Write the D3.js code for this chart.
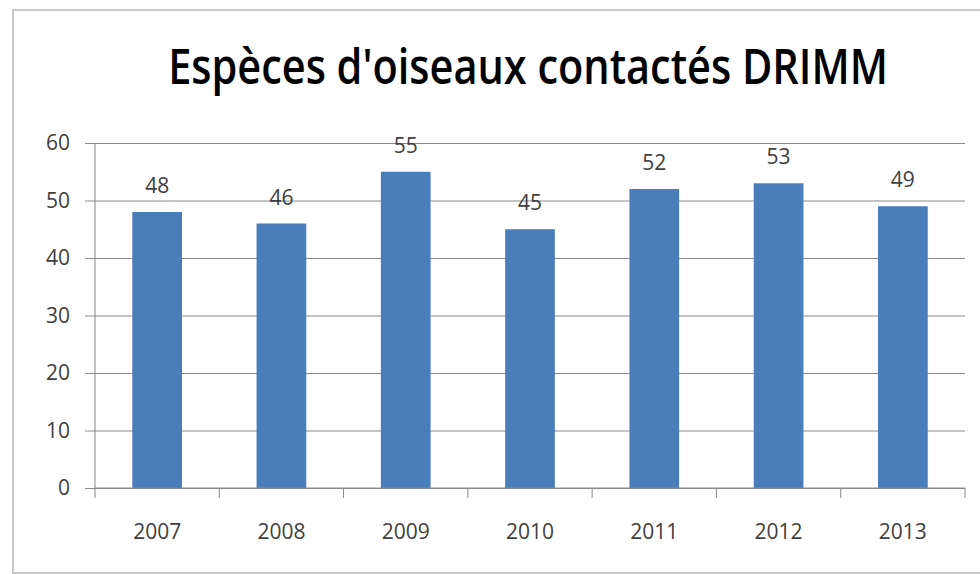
<!DOCTYPE html>
<html>
<head>
<meta charset="utf-8">
<script src="https://cdn.jsdelivr.net/npm/d3@7"></script>
<style>
    body { margin: 0; background: #fff; }
    svg text { font-family: "Open Sans", "DejaVu Sans", sans-serif; }
</style>
</head>
<body>
<div id="chart"></div>
<script>
// chart data
var years = ["2007", "2008", "2009", "2010", "2011", "2012", "2013"];
var species = [48, 46, 55, 45, 52, 53, 49];
var yTicks = [0, 10, 20, 30, 40, 50, 60];
var title = "Espèces d'oiseaux contactés DRIMM";

var width = 980, height = 574;
var plot = { left: 95, right: 965, top: 143, bottom: 488 };

var svg = d3.select("#chart").append("svg")
    .attr("width", width)
    .attr("height", height);

// outer chart frame (soft grey, like the office chart area)
svg.append("rect")
    .attr("x", 13).attr("y", 10)
    .attr("width", 990).attr("height", 563)
    .attr("fill", "#fff")
    .attr("stroke", "#c8c8c8")
    .attr("stroke-width", 2);

// title: squeeze horizontally to the narrow calibri-like width of the original
var titleG = svg.append("g");
var titleText = titleG.append("text")
    .attr("x", 0).attr("y", 0)
    .attr("text-anchor", "middle")
    .attr("font-size", 49)
    .attr("font-weight", 600)
    .attr("fill", "#000")
    .text(title);
var natural = titleText.node().getComputedTextLength();
var sx = 720 / natural;
titleG.attr("transform", "translate(528,84) scale(" + sx + ",1)");

var x = d3.scaleBand()
    .domain(years)
    .range([plot.left, plot.right])
    .paddingInner(0.6)
    .paddingOuter(0.3);

var y = d3.scaleLinear()
    .domain([0, 60])
    .range([plot.bottom, plot.top]);

// gridlines + y ticks
svg.append("g")
    .attr("transform", "translate(" + plot.left + ",0)")
    .call(d3.axisLeft(y).tickValues(yTicks).tickSize(-(plot.right - plot.left)).tickPadding(25))
    .call(function (g) {
        g.select(".domain").remove();
        g.selectAll(".tick line").attr("stroke", "#8a8a8a").attr("x1", -10);
        g.selectAll(".tick text")
            .attr("fill", "#404040")
            .attr("font-size", 21)
            .attr("font-family", "'Open Sans', sans-serif");
    });

// y axis line
svg.append("line")
    .attr("x1", plot.left).attr("x2", plot.left)
    .attr("y1", plot.top).attr("y2", plot.bottom)
    .attr("stroke", "#8a8a8a");

// bars
svg.selectAll("rect.bar")
    .data(species)
    .enter().append("rect")
    .attr("class", "bar")
    .attr("x", function (d, i) { return x(years[i]); })
    .attr("y", function (d) { return y(d); })
    .attr("width", x.bandwidth())
    .attr("height", function (d) { return y(0) - y(d); })
    .attr("fill", "#4a7ebb");

// value labels
svg.selectAll("text.val")
    .data(species)
    .enter().append("text")
    .attr("class", "val")
    .attr("x", function (d, i) { return x(years[i]) + x.bandwidth() / 2; })
    .attr("y", function (d) { return y(d) - 19; })
    .attr("text-anchor", "middle")
    .attr("font-size", 21)
    .attr("fill", "#404040")
    .text(function (d) { return d; });

// x axis: line, ticks at band edges, year labels
var edges = d3.range(years.length + 1).map(function (i) { return plot.left + i * (plot.right - plot.left) / years.length; });

svg.append("line")
    .attr("x1", plot.left).attr("x2", plot.right)
    .attr("y1", plot.bottom).attr("y2", plot.bottom)
    .attr("stroke", "#8a8a8a");

svg.selectAll("line.xtick")
    .data(edges)
    .enter().append("line")
    .attr("class", "xtick")
    .attr("x1", function (d) { return d; }).attr("x2", function (d) { return d; })
    .attr("y1", plot.bottom).attr("y2", plot.bottom + 10)
    .attr("stroke", "#8a8a8a");

svg.selectAll("text.year")
    .data(years)
    .enter().append("text")
    .attr("class", "year")
    .attr("x", function (d) { return x(d) + x.bandwidth() / 2; })
    .attr("y", 539)
    .attr("text-anchor", "middle")
    .attr("font-size", 21)
    .attr("fill", "#404040")
    .text(function (d) { return d; });
</script>
</body>
</html>
